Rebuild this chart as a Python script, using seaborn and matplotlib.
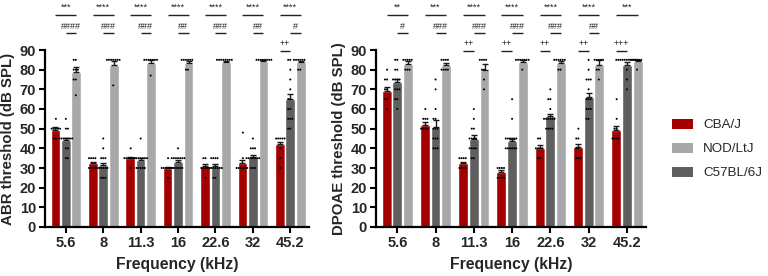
import numpy as np
import pandas as pd
import matplotlib
matplotlib.use("Agg")
import matplotlib.pyplot as plt
import seaborn as sns
from matplotlib.patches import Patch

sns.set_theme(style="ticks")
plt.rcParams['font.family'] = ['Liberation Sans', 'DejaVu Sans']

freqs = ["5.6", "8", "11.3", "16", "22.6", "32", "45.2"]
strains = ["CBA/J", "C57BL/6J", "NOD/LtJ"]
legend_order = ["CBA/J", "NOD/LtJ", "C57BL/6J"]
colors = {"CBA/J": "#A50000", "C57BL/6J": "#5F5F5F", "NOD/LtJ": "#A8A8AA"}

# ---- ABR means / SEM ----
abr_mean_cba = [49.5, 32.5, 35.0, 30.0, 31.0, 32.5, 42.0]
abr_mean_c57 = [44.0, 31.5, 34.0, 33.0, 31.0, 35.5, 65.0]
abr_mean_nod = [79.0, 82.5, 83.5, 83.5, 84.0, 84.5, 84.0]
abr_sem_cba = [1.2, 0.6, 0.6, 0.7, 0.9, 1.8, 1.2]
abr_sem_c57 = [1.5, 1.2, 0.9, 0.9, 1.0, 1.0, 2.8]
abr_sem_nod = [2.3, 1.8, 1.3, 0.8, 0.6, 0.5, 0.6]

# ---- DPOAE means / SEM ----
dp_mean_cba = [69.0, 52.0, 32.5, 28.0, 40.0, 40.5, 49.5]
dp_mean_c57 = [73.5, 51.0, 45.0, 43.5, 56.5, 66.0, 82.5]
dp_mean_nod = [83.0, 82.5, 80.0, 84.0, 83.5, 82.5, 84.5]
dp_sem_cba = [2.2, 1.5, 0.8, 0.8, 1.5, 1.6, 2.0]
dp_sem_c57 = [2.0, 3.5, 1.8, 1.3, 1.2, 2.3, 1.2]
dp_sem_nod = [1.2, 1.0, 3.0, 1.0, 1.0, 2.5, 0.5]

# ---- individual animals (approximate readings) ----
abr_pts_cba = [[55, 50, 50, 50, 50, 50, 45, 45],
               [35, 35, 35, 35, 30, 30, 30, 30],
               [35, 35, 35, 35, 35, 35, 30, 40],
               [35, 30, 30, 30, 30, 30, 25, 30],
               [35, 35, 30, 30, 30, 30, 30, 25],
               [48, 35, 30, 30, 30, 30, 30, 30],
               [45, 45, 45, 45, 45, 40, 35, 30]]
abr_pts_c57 = [[55, 50, 50, 45, 45, 45, 45, 45, 45, 45, 40, 40, 35, 35],
               [45, 40, 35, 35, 35, 30, 30, 30, 30, 30, 30, 25, 25, 25],
               [45, 35, 35, 35, 35, 35, 35, 35, 30, 30, 30, 30, 30, 35],
               [40, 35, 35, 35, 35, 35, 35, 30, 30, 30, 30, 30, 30, 35],
               [35, 35, 35, 30, 30, 30, 30, 30, 30, 30, 30, 25, 25, 35],
               [45, 40, 40, 40, 35, 35, 35, 35, 35, 35, 30, 30, 30, 35],
               [85, 85, 80, 75, 70, 65, 65, 60, 60, 55, 55, 50, 50, 55]]
abr_pts_nod = [[85, 85, 80, 80, 80, 75, 75, 67],
               [85, 85, 85, 85, 85, 85, 85, 72],
               [85, 85, 85, 85, 85, 85, 85, 77],
               [85, 85, 85, 85, 85, 85, 80, 80],
               [85, 85, 85, 85, 85, 85, 85, 85],
               [85, 85, 85, 85, 85, 85, 85, 85],
               [85, 85, 85, 85, 85, 85, 80, 80]]

dp_pts_cba = [[80, 75, 75, 70, 70, 65, 65, 60],
              [60, 55, 55, 55, 50, 50, 50, 50],
              [35, 35, 35, 30, 30, 30, 30, 35],
              [30, 30, 30, 30, 25, 25, 25, 25],
              [45, 45, 40, 40, 40, 35, 35, 40],
              [50, 45, 45, 40, 40, 35, 35, 35],
              [65, 55, 50, 50, 45, 45, 45, 45]]
dp_pts_c57 = [[85, 85, 80, 80, 75, 75, 75, 75, 70, 70, 65, 65, 60, 70],
              [75, 70, 60, 55, 55, 50, 50, 50, 45, 45, 40, 40, 40, 45],
              [60, 55, 50, 45, 45, 45, 45, 40, 40, 40, 40, 35, 35, 50],
              [65, 55, 45, 45, 45, 45, 45, 45, 40, 40, 40, 40, 40, 40],
              [70, 65, 65, 60, 55, 55, 55, 55, 55, 50, 50, 50, 50, 55],
              [85, 80, 75, 75, 75, 70, 65, 65, 65, 60, 60, 55, 55, 60],
              [85, 85, 85, 85, 85, 85, 85, 85, 85, 85, 80, 75, 70, 85]]
dp_pts_nod = [[85, 85, 85, 85, 80, 80, 80, 85],
              [85, 85, 85, 85, 80, 80, 80, 80],
              [85, 85, 85, 80, 80, 75, 70, 85],
              [85, 85, 85, 85, 85, 85, 85, 80],
              [85, 85, 85, 85, 85, 85, 80, 80],
              [85, 85, 85, 85, 85, 80, 80, 75],
              [85, 85, 85, 85, 85, 85, 80]]

# ---- significance labels ----
abr_star = ["***", "****", "****", "****", "****", "****", "****"]
abr_hash = ["####", "###", "###", "##", "###", "##", "#"]
abr_plus = ["", "", "", "", "", "", "++"]
dp_star = ["**", "***", "****", "****", "****", "****", "***"]
dp_hash = ["#", "###", "###", "###", "###", "##", ""]
dp_plus = ["", "", "++", "++", "++", "++", "+++"]


def make_frames(m_cba, m_c57, m_nod, p_cba, p_c57, p_nod):
    rows = []
    for s, m in zip(strains, [m_cba, m_c57, m_nod]):
        for f, v in zip(freqs, m):
            rows.append({"freq": f, "strain": s, "value": v})
    prow = []
    for s, P in zip(strains, [p_cba, p_c57, p_nod]):
        for f, vals in zip(freqs, P):
            for v in vals:
                prow.append({"freq": f, "strain": s, "value": v})
    return pd.DataFrame(rows), pd.DataFrame(prow)


def bracket(ax, x1, x2, y, text):
    if not text:
        return
    ax.plot([x1, x2], [y, y], color="#222222", lw=1.0, clip_on=False,
            solid_capstyle="butt")
    ax.text((x1 + x2) / 2, y + 1.3, text, ha="center", va="bottom",
            fontsize=6.5, color="#222222", clip_on=False)


def panel(ax, mdf, pdf, sems, star, hsh, plus, ylabel):
    sns.barplot(data=mdf, x="freq", y="value", hue="strain", order=freqs,
                hue_order=strains, palette=colors, width=0.84, gap=0.08,
                errorbar=None, saturation=1, legend=False, ax=ax)
    bars = [list(c) for c in ax.containers[:3]]
    for bl, e_list in zip(bars, sems):
        for b, e in zip(bl, e_list):
            cx = b.get_x() + b.get_width() / 2
            ax.errorbar(cx, b.get_height(), yerr=[[0], [e]], fmt="none",
                        ecolor="#1a1a1a", elinewidth=1.0, capsize=2.2,
                        capthick=1.0, zorder=4)
    sns.swarmplot(data=pdf, x="freq", y="value", hue="strain", order=freqs,
                  hue_order=strains, dodge=True,
                  palette={s: "black" for s in strains}, size=1.45,
                  legend=False, ax=ax, zorder=5, warn_thresh=1)
    for i in range(len(freqs)):
        c0 = bars[0][i].get_x() + bars[0][i].get_width() / 2
        c1 = bars[1][i].get_x() + bars[1][i].get_width() / 2
        c2 = bars[2][i].get_x() + bars[2][i].get_width() / 2
        bracket(ax, c0, c2, 108, star[i])
        bracket(ax, c1, c2, 98.5, hsh[i])
        bracket(ax, c0, c1, 89.5, plus[i])

    ax.set_ylim(0, 90)
    ax.set_xlim(-0.557, 6.5)
    ax.set_yticks(range(0, 91, 10))
    ax.set_xlabel("Frequency (kHz)", fontsize=11.3, fontweight="bold",
                  labelpad=5)
    ax.set_ylabel(ylabel, fontsize=10.8, fontweight="bold", labelpad=3)
    for sp in ["top", "right"]:
        ax.spines[sp].set_visible(False)
    for sp in ["left", "bottom"]:
        ax.spines[sp].set_linewidth(1.6)
        ax.spines[sp].set_color("black")
    ax.tick_params(axis="both", length=4.5, width=1.5, color="black",
                   labelsize=10.5, pad=2)
    for t in ax.get_xticklabels() + ax.get_yticklabels():
        t.set_fontweight("bold")


fig = plt.figure(figsize=(7.68, 2.76), dpi=100)
ax1 = fig.add_axes([45 / 768, 49 / 276, 264 / 768, 177 / 276])
ax2 = fig.add_axes([376 / 768, 49 / 276, 270 / 768, 177 / 276])

m1, p1 = make_frames(abr_mean_cba, abr_mean_c57, abr_mean_nod,
                     abr_pts_cba, abr_pts_c57, abr_pts_nod)
m2, p2 = make_frames(dp_mean_cba, dp_mean_c57, dp_mean_nod,
                     dp_pts_cba, dp_pts_c57, dp_pts_nod)

panel(ax1, m1, p1, [abr_sem_cba, abr_sem_c57, abr_sem_nod],
      abr_star, abr_hash, abr_plus, "ABR threshold (dB SPL)")
panel(ax2, m2, p2, [dp_sem_cba, dp_sem_c57, dp_sem_nod],
      dp_star, dp_hash, dp_plus, "DPOAE threshold (dB SPL)")

handles = [Patch(facecolor=colors[s], edgecolor="none", label=s)
           for s in legend_order]
fig.legend(handles=handles, loc="center left",
           bbox_to_anchor=(672 / 768, 1 - 149 / 276), frameon=False,
           fontsize=9.6, handlelength=1.55, handleheight=0.8,
           handletextpad=0.8, labelspacing=0.85, borderpad=0,
           borderaxespad=0)

fig.savefig("out.png", dpi=100)
